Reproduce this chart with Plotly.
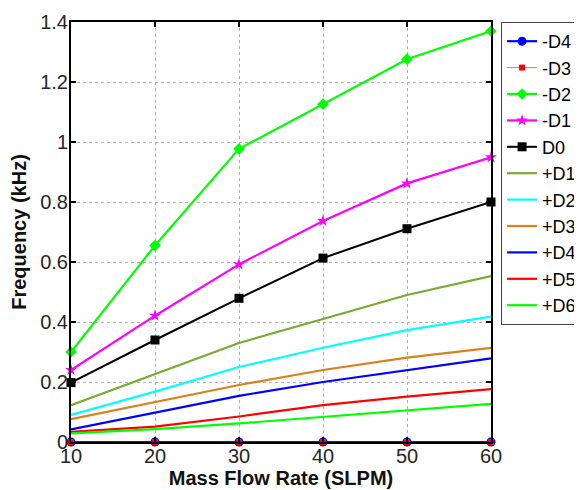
import plotly.graph_objects as go

flow = [10, 20, 30, 40, 50, 60]
names = ["-D4", "-D3", "-D2", "-D1", "D0", "+D1", "+D2", "+D3", "+D4", "+D5", "+D6"]
m_d4 = [0, 0, 0, 0, 0, 0]
m_d3 = [0, 0, 0, 0, 0, 0]
m_d2 = [0.30, 0.655, 0.977, 1.126, 1.276, 1.37]
m_d1 = [0.24, 0.421, 0.592, 0.737, 0.862, 0.949]
d0 = [0.198, 0.34, 0.479, 0.613, 0.711, 0.80]
p_d1 = [0.123, 0.227, 0.33, 0.41, 0.49, 0.553]
p_d2 = [0.09, 0.168, 0.25, 0.314, 0.373, 0.418]
p_d3 = [0.076, 0.132, 0.19, 0.24, 0.281, 0.314]
p_d4 = [0.042, 0.098, 0.154, 0.2, 0.24, 0.279]
p_d5 = [0.034, 0.051, 0.085, 0.123, 0.151, 0.176]
p_d6 = [0.029, 0.043, 0.062, 0.084, 0.107, 0.127]
x_ticks = [10, 20, 30, 40, 50, 60]
y_ticks = [0, 0.2, 0.4, 0.6, 0.8, 1, 1.2, 1.4]
y_tick_labels = ["0", "0.2", "0.4", "0.6", "0.8", "1", "1.2", "1.4"]

series = [m_d4, m_d3, m_d2, m_d1, d0, p_d1, p_d2, p_d3, p_d4, p_d5, p_d6]
colors = ["#0000FF", "#FF0000", "#00FF00", "#FF00FF", "#000000", "#77AC30",
          "#00FFFF", "#D9821A", "#0000FF", "#FF0000", "#00FF00"]
widths = [2.2, 0.6, 2.2, 2.2, 2.0, 2.2, 2.2, 2.2, 2.2, 2.2, 2.2]
symbols = ["circle", "square", "diamond", "star", "square", None, None, None, None, None, None]
msizes = [9, 6, 9, 9, 9, 0, 0, 0, 0, 0, 0]

fig = go.Figure()
for i, (nm, ys) in enumerate(zip(names, series)):
    if symbols[i] is not None:
        fig.add_trace(go.Scatter(
            x=flow, y=ys, name=nm, mode="lines+markers",
            line=dict(color=colors[i], width=widths[i]),
            marker=dict(symbol=symbols[i], size=msizes[i], color=colors[i]),
            cliponaxis=False))
    else:
        fig.add_trace(go.Scatter(
            x=flow, y=ys, name=nm, mode="lines",
            line=dict(color=colors[i], width=widths[i])))

FONT = "Arial, Liberation Sans, sans-serif"
axis_font = dict(family=FONT, size=20, color="#262626")
title_font = dict(family=FONT, size=20, color="#111111")
fig.update_layout(
    width=582, height=490,
    margin=dict(l=63, r=99, t=14, b=56, autoexpand=False),
    paper_bgcolor="white", plot_bgcolor="white",
    font=axis_font,
    showlegend=True,
    legend=dict(x=1.024, xref="paper", xanchor="left", y=1.0, yanchor="top",
                bordercolor="#444444", borderwidth=1, bgcolor="white",
                font=dict(family=FONT, size=18, color="#000000"),
                tracegroupgap=0, itemwidth=30),
    xaxis=dict(range=[10, 60], tickvals=x_ticks, ticks="inside", ticklen=5,
               tickcolor="black", tickwidth=1.5, ticklabelstandoff=-5,
               showline=True, linecolor="black", linewidth=2, mirror="ticks",
               showgrid=True, gridcolor="#B0B0B0", griddash="dot", gridwidth=1,
               zeroline=False, tickfont=axis_font,
               title=dict(text="<b>Mass Flow Rate (SLPM)</b>", standoff=0, font=title_font)),
    yaxis=dict(range=[0, 1.4], tickvals=y_ticks, ticktext=y_tick_labels, ticks="inside", ticklen=5,
               tickcolor="black", tickwidth=1.5, ticklabelstandoff=-3,
               showline=True, linecolor="black", linewidth=2, mirror="ticks",
               showgrid=True, gridcolor="#B0B0B0", griddash="dot", gridwidth=1,
               zeroline=False, tickfont=axis_font,
               title=dict(text="<b>Frequency (kHz)</b>", standoff=9, font=title_font)),
)
fig.write_html("out.html")
